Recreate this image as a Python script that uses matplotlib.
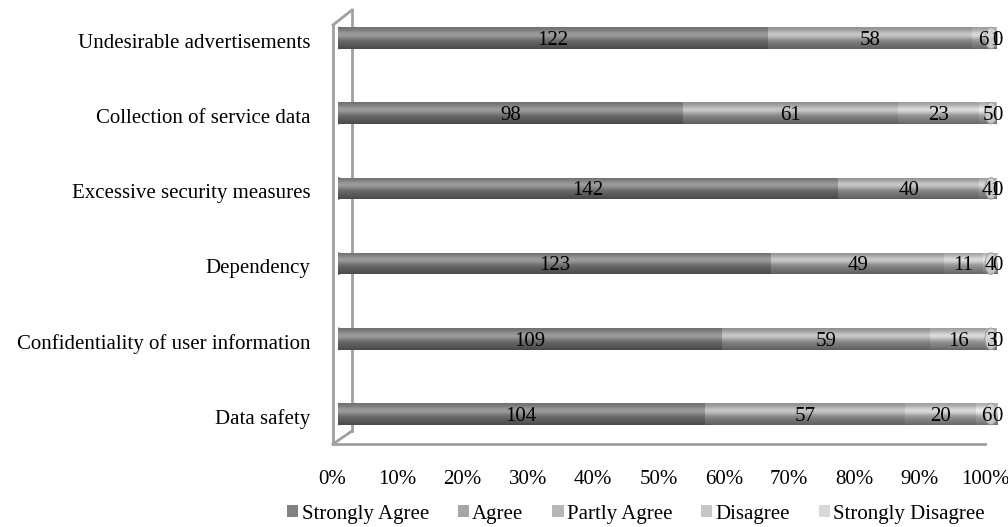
import numpy as np
import matplotlib.pyplot as plt
from matplotlib.patches import Patch, Ellipse
from matplotlib.lines import Line2D

plt.rcParams['font.family'] = ['Liberation Serif', 'DejaVu Serif']

categories = ['Data safety', 'Confidentiality of user information', 'Dependency',
              'Excessive security measures', 'Collection of service data',
              'Undesirable advertisements']
series = ['Strongly Agree', 'Agree', 'Partly Agree', 'Disagree', 'Strongly Disagree']
strongly_agree = [104, 109, 123, 142, 98, 122]
agree = [57, 59, 49, 40, 61, 58]
partly_agree = [20, 16, 11, 4, 23, 6]
disagree = [6, 3, 4, 1, 5, 1]
strongly_disagree = [0, 0, 0, 0, 0, 0]
colors = ['#828282', '#a6a6a6', '#b6b6b6', '#c6c6c6', '#d8d8d8']
tick_labels = ['0%', '10%', '20%', '30%', '40%', '50%', '60%', '70%', '80%', '90%', '100%']

W, H = 1008, 527
fig = plt.figure(figsize=(W / 100, H / 100), dpi=100)

# axes placed in pixel terms of the reference
ax_left, ax_right = 338, 997
ax_top, ax_bottom = 0.4, 451.6
ax = fig.add_axes([ax_left / W, 1 - ax_bottom / H, (ax_right - ax_left) / W, (ax_bottom - ax_top) / H])
ax.set_axis_off()
ax.patch.set_alpha(0)

data = np.array([strongly_agree, agree, partly_agree, disagree, strongly_disagree], dtype=float)
totals = data.sum(axis=0)
shares = data / totals

# cylinder shading profile, top -> bottom
t = np.linspace(0, 1, 64)
shade = 0.86 + 0.36 * np.exp(-((t - 0.35) / 0.2) ** 2) - 0.3 * t ** 2.5
bar_h = 0.285
y = np.arange(len(categories))


def shaded(color):
    rgb = np.array(plt.matplotlib.colors.to_rgb(color))
    img = np.clip(shade[:, None] * rgb[None, :], 0, 1)
    return img[:, None, :]


left = np.zeros(len(categories))
for i, name in enumerate(series):
    w = shares[i]
    bars = ax.barh(y, w, left=left, height=bar_h, color=colors[i], edgecolor='none', zorder=3)
    img = shaded(colors[i])
    for b in bars:
        if b.get_width() <= 0:
            continue
        x0, y0 = b.get_x(), b.get_y()
        im = ax.imshow(img, extent=(x0, x0 + b.get_width(), y0, y0 + bar_h),
                       origin='upper', aspect='auto', zorder=4, interpolation='bilinear')
        im.set_clip_path(b)
    for yy, l, ww, v in zip(y, left, w, data[i]):
        ax.text(l + ww / 2, yy - 0.03, f'{int(v)}', ha='center', va='center',
                fontsize=15, color='black', zorder=6)
    left = left + w

ax.set_xlim(0, 1)
ax.set_ylim(-0.5, 5.5)

# rounded ends of the cylinders
ew = 12 / (ax_right - ax_left)
for yy in y:
    ax.add_patch(Ellipse((0.0, yy), ew, bar_h, color=colors[0], zorder=2))
    cap = Ellipse((1.0 - ew / 2, yy), ew, bar_h, facecolor='#d4d4d4', edgecolor='#9a9a9a',
                  lw=0.8, zorder=5, alpha=0.85)
    ax.add_patch(cap)


# 3d back wall and floor
def fx(px):
    return px / W


def fy(py):
    return 1 - py / H


frame = dict(color='#a0a0a0', lw=2, transform=fig.transFigure, zorder=1)
for xs, ys in [((333, 333), (444, 25)), ((333, 352), (25, 10)), ((352, 352), (10, 431)),
               ((333, 352), (444, 431)), ((333, 985), (444, 444))]:
    ax.add_line(Line2D([fx(v) for v in xs], [fy(v) for v in ys], clip_on=False, **frame))

# category labels
for yy, c in zip(y, categories):
    ax.text(-0.042, yy - 0.07, c, ha='right', va='center', fontsize=15, color='black')

# percentage tick labels, on the front plane of the 3d box
for k, lab in enumerate(tick_labels):
    fig.text(fx(332 + k * 65.3), fy(480), lab, ha='center', va='center', fontsize=15,
             color='black')

handles = [Patch(facecolor=c, edgecolor='none') for c in colors]
fig.legend(handles, series, loc='center', bbox_to_anchor=(fx(636), fy(514)), ncol=5,
           frameon=False, fontsize=15, handlelength=0.55, handleheight=0.55,
           handletextpad=0.15, columnspacing=1.38, borderpad=0)

fig.savefig('out.png', dpi=100)
